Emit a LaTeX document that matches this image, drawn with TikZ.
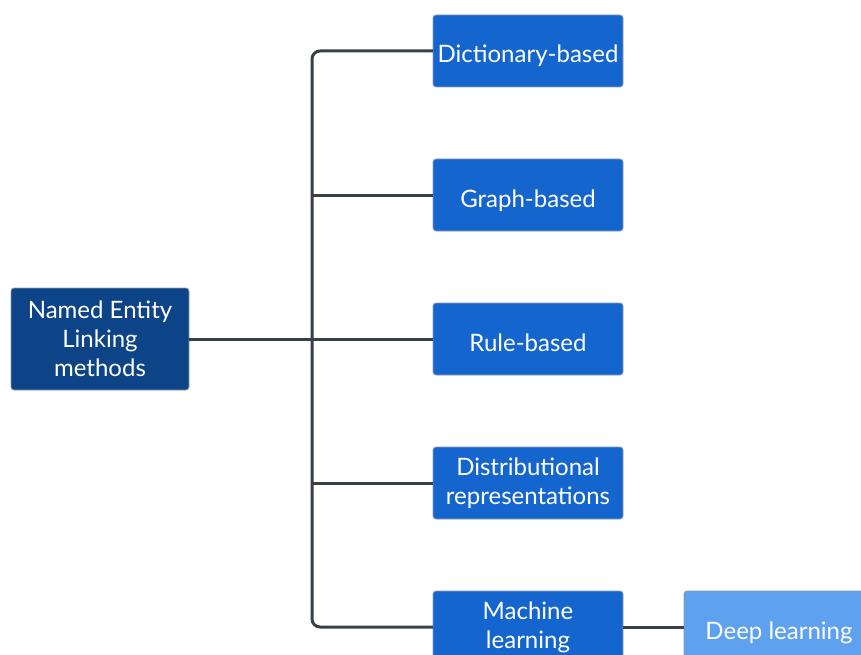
\documentclass[tikz,border=0pt]{standalone}
\usepackage{fontspec}
\setmainfont{Lato}
\usepackage{tikz}
\usetikzlibrary{positioning}
\definecolor{rootblue}{HTML}{0D4387}
\definecolor{catblue}{HTML}{1565CF}
\definecolor{subblue}{HTML}{5EA1EF}
\definecolor{edge}{HTML}{8C9BB0}
\definecolor{wire}{HTML}{393F47}
\tikzset{
  box/.style={draw=edge, line width=0.8pt, rounded corners=3pt, text=white, align=center,
              font=\fontsize{24}{29}\selectfont, inner sep=2pt, outer sep=0pt},
  root/.style={box, fill=rootblue, minimum width=178pt, minimum height=102pt},
  cat/.style={box, fill=catblue, minimum width=190pt, minimum height=72pt},
  sub/.style={box, fill=subblue, minimum width=190pt, minimum height=72pt},
  oneline/.style={text height=24pt, text depth=0pt},
  link/.style={draw=wire, line width=3pt},
}
\begin{document}
\begin{tikzpicture}[x=1pt, y=-1pt, node distance=72pt and 61pt]
  \useasboundingbox (0,0) rectangle (861,655);
  \node[root] (root) at (100,339) {Named Entity\\Linking\\methods};
  \node[cat, oneline] (dict) at (528,51) {Dictionary-based};
  \node[cat, oneline, below=of dict] (graph) {Graph-based};
  \node[cat, oneline, below=of graph] (rule) {Rule-based};
  \node[cat, below=of rule] (distr) {Distributional\\representations};
  \node[cat, below=of distr] (ml) {Machine\\learning};
  \node[sub, oneline, right=of ml] (deep) {Deep learning};
  \coordinate (trunk) at (312,339);
  \draw[link, rounded corners=8pt] (dict.west) -| (trunk) |- (ml.west);
  \draw[link] (root.east) -- (trunk);
  \draw[link] (graph.west) -- (graph.west -| trunk);
  \draw[link] (rule.west) -- (rule.west -| trunk);
  \draw[link] (distr.west) -- (distr.west -| trunk);
  \draw[link] (ml.east) -- (deep.west);
\end{tikzpicture}
\end{document}
